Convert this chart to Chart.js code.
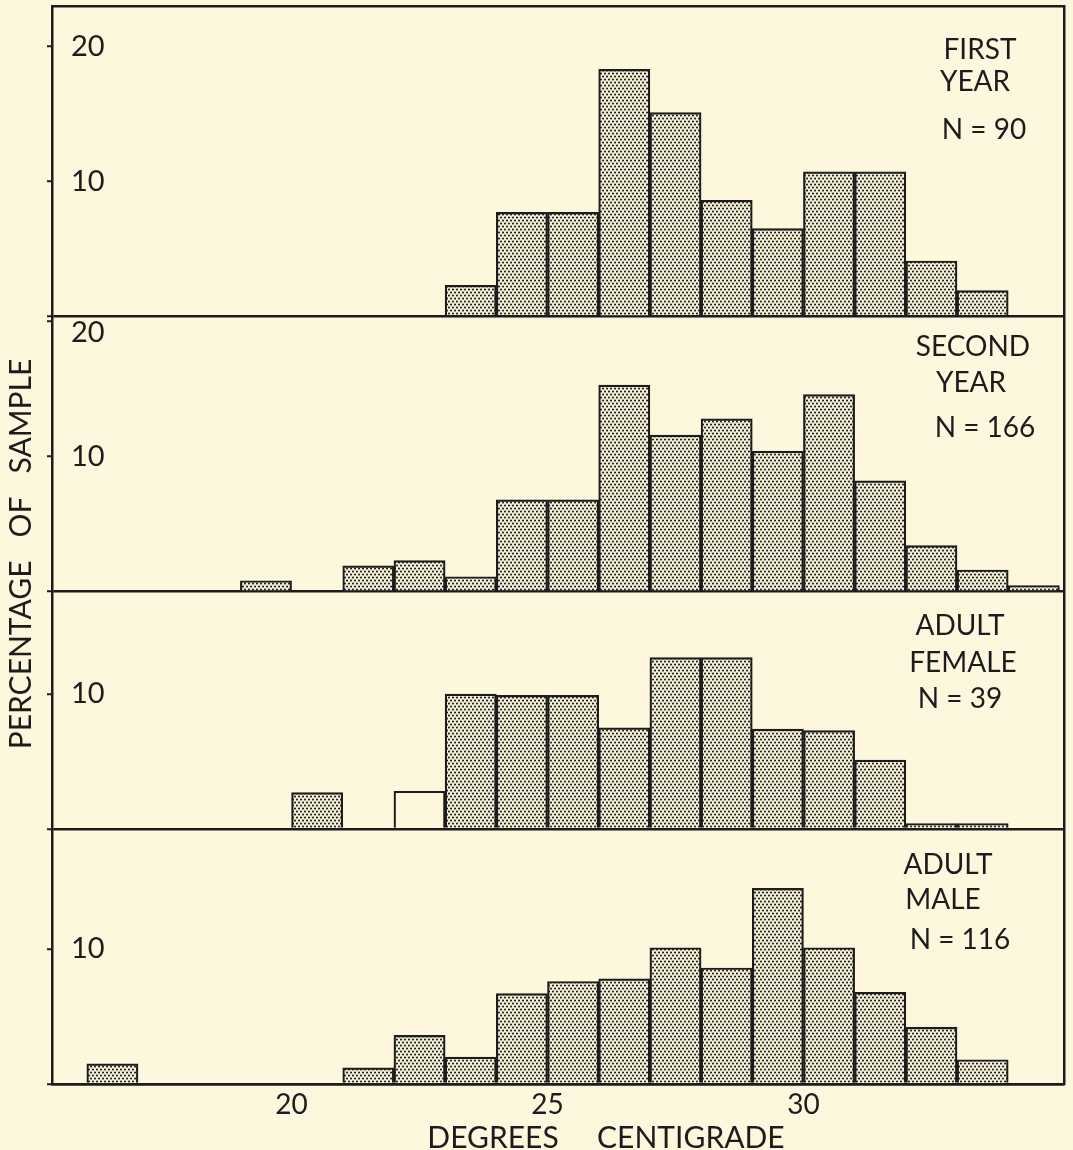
<!DOCTYPE html>
<html>
<head>
<meta charset="utf-8">
<title>Temperatura corporal por clase de edad</title>
<script src="https://cdn.jsdelivr.net/npm/chart.js@4.4.1/dist/chart.umd.min.js"></script>
<style>
  html, body { margin: 0; padding: 0; background: #fcf7dd; }
  #chart { display: block; }
</style>
</head>
<body>
<canvas id="chart" width="1073" height="1150"></canvas>
<script>
// DATOS

// clases de 1 grado (limite inferior de cada clase)
const bins = [16, 17, 18, 19, 20, 21, 22, 23, 24, 25, 26, 27, 28, 29, 30, 31, 32, 33, 34];

// porcentaje de la muestra en cada clase
const firstYear   = [0,   0, 0, 0,   0,   0,   0,   2.3,  7.7, 7.7, 18.3, 15.1, 8.6,  6.5,  10.7, 10.7, 4.1, 1.9, 0];
const secondYear  = [0,   0, 0, 0.8, 0,   1.9, 2.3, 1.1,  6.8, 6.8, 15.3, 11.6, 12.8, 10.4, 14.6, 8.2,  3.4, 1.6, 0.45];
const adultFemale = [0,   0, 0, 0,   2.7, 0,   2.8, 10.0, 9.9, 9.9, 7.5,  12.7, 12.7, 7.4,  7.3,  5.1,  0.4, 0.4, 0];
const adultMale   = [1.5, 0, 0, 0,   0,   1.2, 3.6, 2.0,  6.7, 7.6, 7.8,  10.1, 8.6,  14.5, 10.1, 6.8,  4.2, 1.8, 0];

const femaleOpenBins = [22]; // clase sin trama en hembras adultas

const xTicks = [20, 25, 30];
const panelTicks = [[0, 10, 20], [0, 10, 20], [0, 10], [0, 10]];
const panelMax = [23, 20.4, 17.6, 18.9];

const panelSeries = [firstYear, secondYear, adultFemale, adultMale];
const seriesNames = ['First year', 'Second year', 'Adult female', 'Adult male'];
const panelText = [
    ['FIRST', 'YEAR', 'N = 90'],
    ['SECOND', 'YEAR', 'N = 166'],
    ['ADULT', 'FEMALE', 'N = 39'],
    ['ADULT', 'MALE', 'N = 116']
];
const xTitle = 'DEGREES     CENTIGRADE';
const yTitle = 'PERCENTAGE   OF   SAMPLE';


// ESTILOS

const INK = '#1c1c1c';
const PAPER = '#fcf7dd';
const FONT = "Lato, 'DejaVu Sans', sans-serif";

// texto de cada panel: [x centro, y desde el borde superior del panel]
const textSpots = [
    [[980, 44], [975, 76], [984, 124]],
    [[973, 31], [971, 67], [985, 112]],
    [[960, 34], [963, 71], [960, 107]],
    [[948, 36], [943, 71], [960, 111]]
];

// trama punteada de las barras
const makeStipple = () => {
    const tile = document.createElement('canvas');
    tile.width = 4;
    tile.height = 6;
    const c = tile.getContext('2d');
    c.fillStyle = '#f3eed6';
    c.fillRect(0, 0, 4, 6);
    c.fillStyle = '#202020';
    [[1, 1.5], [3, 4.5]].forEach(([x, y]) => {
        c.beginPath();
        c.arc(x, y, 1.05, 0, Math.PI * 2);
        c.fill();
    });
    return c.createPattern(tile, 'repeat');
};
const stipple = makeStipple();

// textos del panel y titulos de los ejes
const figureText = {
    id: 'figureText',
    afterDraw(chart) {
        const ctx = chart.ctx;
        ctx.save();
        ctx.fillStyle = INK;
        ctx.textAlign = 'center';
        ctx.textBaseline = 'middle';
        ctx.font = '28px ' + FONT;
        panelText.forEach((lines, i) => {
            const top = chart.scales['y' + (i + 1)].top;
            lines.forEach((t, j) => ctx.fillText(t, textSpots[i][j][0], top + textSpots[i][j][1]));
        });
        ctx.font = '30px ' + FONT;
        ctx.fillText(xTitle, 606, chart.scales.x.bottom - 12);
        ctx.translate(21, 554);
        ctx.rotate(-Math.PI / 2);
        ctx.fillText(yTitle, 0, 0);
        ctx.restore();
    }
};


// GRAFICO

const datasets = panelSeries.map((vals, i) => ({
    label: seriesNames[i],
    yAxisID: 'y' + (i + 1),
    data: bins.map((b, j) => ({ x: b + 0.5, y: vals[j] })).filter(p => p.y > 0),
    backgroundColor: ctx => (i === 2 && ctx.raw && femaleOpenBins.includes(ctx.raw.x - 0.5)) ? PAPER : stipple,
    borderColor: INK,
    borderWidth: 2.2,
    grouped: false,
    barPercentage: 1,
    categoryPercentage: 1
}));

const scales = {
    x: {
        type: 'linear',
        position: 'bottom',
        offset: false,
        min: 15.32,
        max: 35.09,
        afterBuildTicks: s => { s.ticks = xTicks.map(v => ({ value: v })); },
        afterFit: s => { s.height = 66; },
        grid: { display: false, drawTicks: false },
        border: { display: true, color: INK, width: 2.5 },
        ticks: { padding: 4, color: INK, maxRotation: 0, font: { family: FONT, size: 28 } }
    },
    xTop: {
        type: 'linear',
        position: 'top',
        display: true,
        afterFit: s => { s.height = 0; },
        grid: { display: false, drawTicks: false },
        ticks: { display: false },
        border: { display: true, color: INK, width: 2.5 }
    },
    yRight: {
        type: 'linear',
        position: 'right',
        display: true,
        afterFit: s => { s.width = 0; },
        grid: { display: false, drawTicks: false },
        ticks: { display: false },
        border: { display: true, color: INK, width: 2.5 }
    }
};

panelMax.forEach((max, i) => {
    // el "20" del segundo panel queda bajo la linea de base superior
    const pushDown = v => (i === 1 && v === 20) ? ['', String(v)] : v;
    scales['y' + (i + 1)] = {
        type: 'linear',
        position: 'left',
        stack: 'panels',
        stackWeight: max,
        weight: 4 - i,
        min: 0,
        max: max,
        z: 1,
        afterBuildTicks: s => { s.ticks = panelTicks[i].map(v => ({ value: v })); },
        afterFit: s => { s.width = 0; s.paddingTop = 0; s.paddingBottom = 0; },
        border: { display: true, color: INK, width: 2.5 },
        grid: {
            color: c => (c.tick && c.tick.value === 0) ? INK : 'rgba(0,0,0,0)',
            lineWidth: 2.5,
            tickColor: INK,
            tickLength: 5,
            tickWidth: 2
        },
        ticks: {
            mirror: true,
            padding: 19,
            color: INK,
            font: { family: FONT, size: 29, lineHeight: 0.72 },
            callback: v => v === 0 ? '' : pushDown(v)
        }
    };
});

const chart = new Chart(document.getElementById('chart'), {
    type: 'bar',
    data: { datasets },
    options: {
        responsive: false,
        animation: false,
        layout: { padding: { top: 6, left: 52, right: 9, bottom: 0 } },
        plugins: {
            legend: { display: false },
            tooltip: { enabled: false }
        },
        scales
    },
    plugins: [figureText]
});
</script>
</body>
</html>
